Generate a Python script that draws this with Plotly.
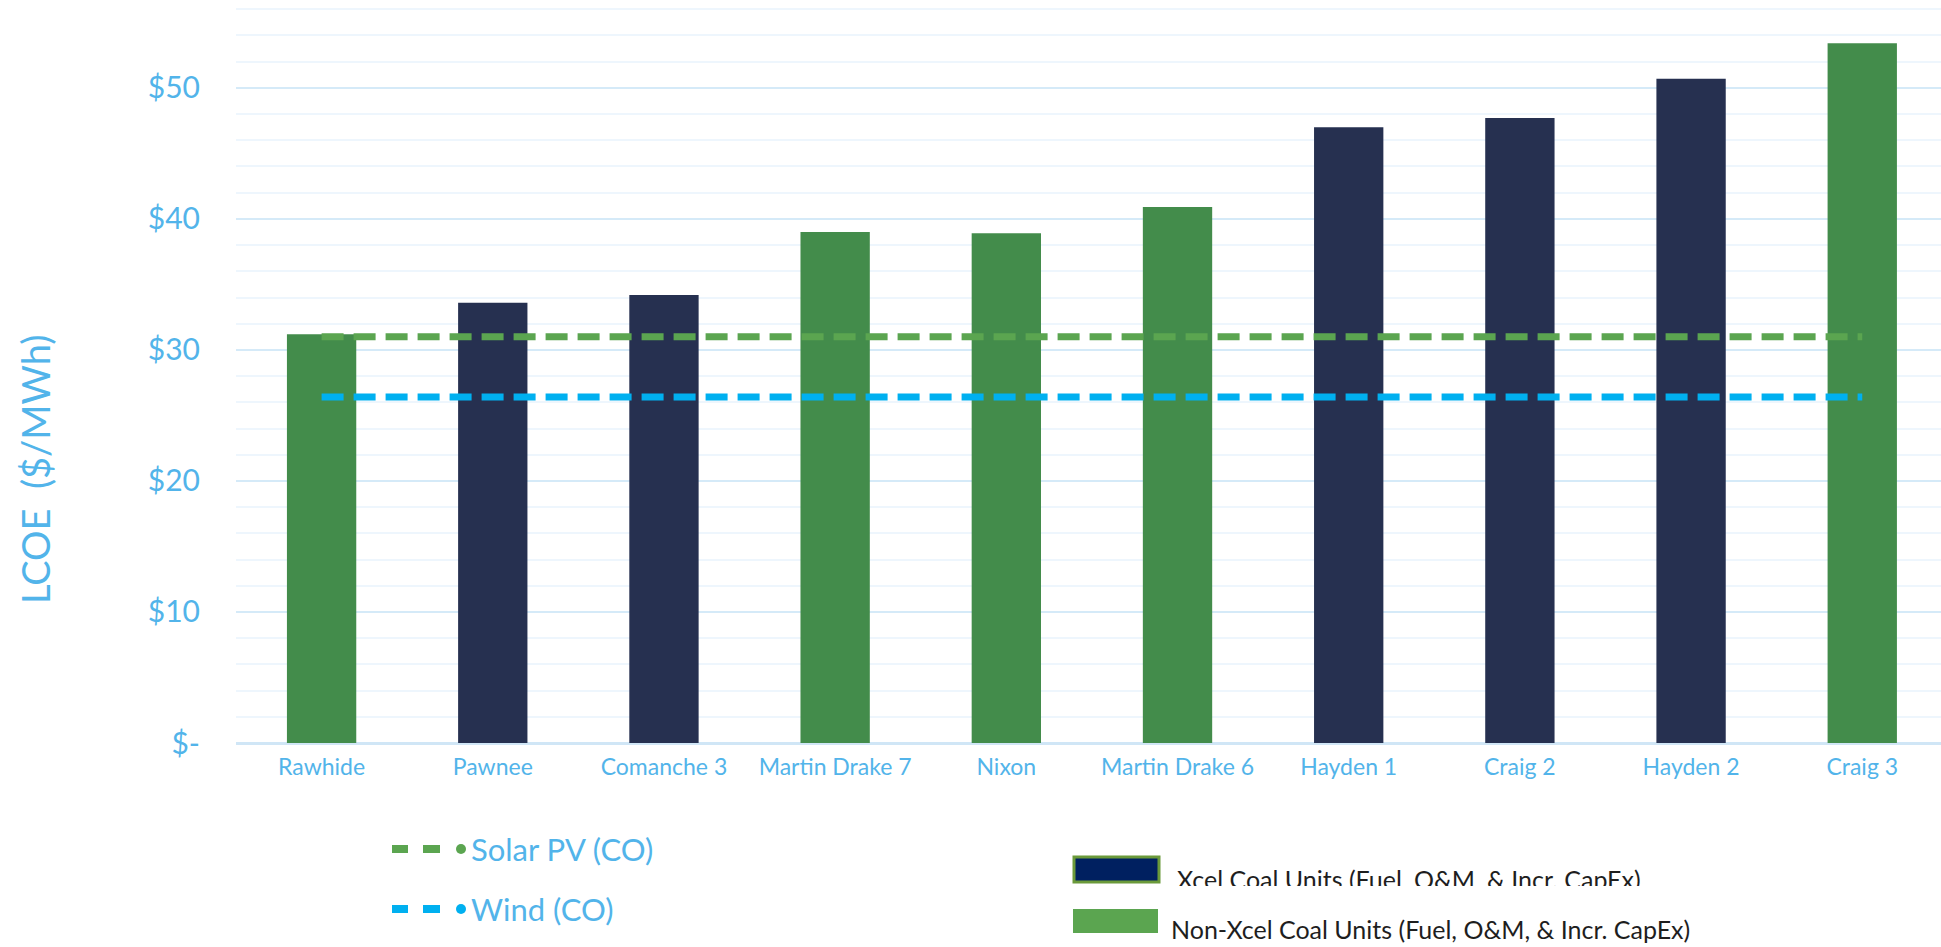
import plotly.graph_objects as go

# ---- data ----
plants = ["Rawhide", "Pawnee", "Comanche 3", "Martin Drake 7", "Nixon",
          "Martin Drake 6", "Hayden 1", "Craig 2", "Hayden 2", "Craig 3"]
lcoe = [31.2, 33.6, 34.2, 39.0, 38.9, 40.9, 47.0, 47.7, 50.7, 53.4]
is_xcel = [False, True, True, False, False, False, True, True, True, False]
solar_pv = 31.0
wind = 26.4
y_tick_vals = [0, 10, 20, 30, 40, 50]
y_tick_text = ["$-", "$10", "$20", "$30", "$40", "$50"]

# ---- styles ----
W, H = 1941, 947
ML, MR, MT, MB = 236, 0, 4, 204
NAVY = "#263050"
GREEN = "#438C4B"
SOLAR = "#5BA550"
WIND = "#00B0F0"
BLUE_TXT = "#52B4EA"
FONT = "Lato"

def px_x(p):
    return (p - ML) / (W - ML - MR)

def px_y(p):
    return (H - MB - p) / (H - MT - MB)

bar_colors = [NAVY if x else GREEN for x in is_xcel]

fig = go.Figure()
fig.add_trace(go.Bar(x=plants, y=lcoe, marker=dict(color=bar_colors, line=dict(width=0)),
                     width=0.405, showlegend=False, hoverinfo="x+y"))
fig.add_trace(go.Scatter(x=[plants[0], plants[-1]], y=[solar_pv, solar_pv], mode="lines",
                         line=dict(color=SOLAR, width=7, dash="22px,10px"),
                         name="Solar PV (CO)", showlegend=False))
fig.add_trace(go.Scatter(x=[plants[0], plants[-1]], y=[wind, wind], mode="lines",
                         line=dict(color=WIND, width=7, dash="22px,10px"),
                         name="Wind (CO)", showlegend=False))

shapes = []
annotations = []

# left legend (lines)
for py, col, label in [(849, SOLAR, "Solar PV (CO)"), (909, WIND, "Wind (CO)")]:
    for x0, x1 in [(392, 408), (423, 440)]:
        shapes.append(dict(type="line", xref="paper", yref="paper",
                           x0=px_x(x0), x1=px_x(x1), y0=px_y(py), y1=px_y(py),
                           line=dict(color=col, width=8)))
    shapes.append(dict(type="circle", xref="paper", yref="paper",
                       x0=px_x(456), x1=px_x(466), y0=px_y(py - 5), y1=px_y(py + 5),
                       fillcolor=col, line=dict(width=0)))
    annotations.append(dict(text=label, xref="paper", yref="paper", x=px_x(469), y=px_y(py),
                            xanchor="left", yanchor="middle", showarrow=False,
                            font=dict(family=FONT, size=31, color=BLUE_TXT)))

# right legend (bars)
shapes.append(dict(type="rect", xref="paper", yref="paper",
                   x0=px_x(1074), x1=px_x(1159), y0=px_y(857), y1=px_y(882),
                   fillcolor="#002060", line=dict(color="#6B9A3A", width=3)))
shapes.append(dict(type="rect", xref="paper", yref="paper",
                   x0=px_x(1073), x1=px_x(1158), y0=px_y(909), y1=px_y(933),
                   fillcolor=SOLAR, line=dict(width=0)))
annotations.append(dict(text="Xcel Coal Units (Fuel, O&M, & Incr. CapEx)", xref="paper", yref="paper",
                        x=px_x(1175), y=px_y(862), xanchor="left", yanchor="top",
                        height=22, valign="top", showarrow=False,
                        font=dict(family=FONT, size=25, color="#1E1E1E")))
annotations.append(dict(text="Non-Xcel Coal Units (Fuel, O&M, & Incr. CapEx)", xref="paper", yref="paper",
                        x=px_x(1169), y=px_y(929), xanchor="left", yanchor="middle",
                        showarrow=False,
                        font=dict(family=FONT, size=25, color="#1E1E1E")))

# y axis title
annotations.append(dict(text="LCOE  ($/MWh)", xref="paper", yref="paper",
                        x=px_x(35), y=px_y(470), xanchor="center", yanchor="middle",
                        textangle=-90, showarrow=False,
                        font=dict(family=FONT, size=38, color=BLUE_TXT)))

fig.update_layout(
    width=W, height=H,
    margin=dict(l=ML, r=MR, t=MT, b=MB, pad=0),
    paper_bgcolor="white", plot_bgcolor="white",
    bargap=0.6,
    shapes=shapes, annotations=annotations,
    font=dict(family=FONT, color=BLUE_TXT),
)
fig.update_xaxes(range=[-0.5, 9.46], showgrid=False, showline=False, zeroline=False,
                 ticks="", tickfont=dict(family=FONT, size=23, color=BLUE_TXT),
                 ticklabelstandoff=8)
fig.update_yaxes(range=[0, 56.4], tickvals=y_tick_vals, ticktext=y_tick_text,
                 showgrid=True, gridcolor="#D5EAF8", gridwidth=2,
                 zeroline=True, zerolinecolor="#D0E6F6", zerolinewidth=3,
                 showline=False, ticks="",
                 minor=dict(dtick=2, tick0=0, showgrid=True, gridcolor="#EEF6FD", gridwidth=2),
                 tickfont=dict(family=FONT, size=30, color=BLUE_TXT),
                 ticklabelstandoff=35)

fig.write_html("out.html")
